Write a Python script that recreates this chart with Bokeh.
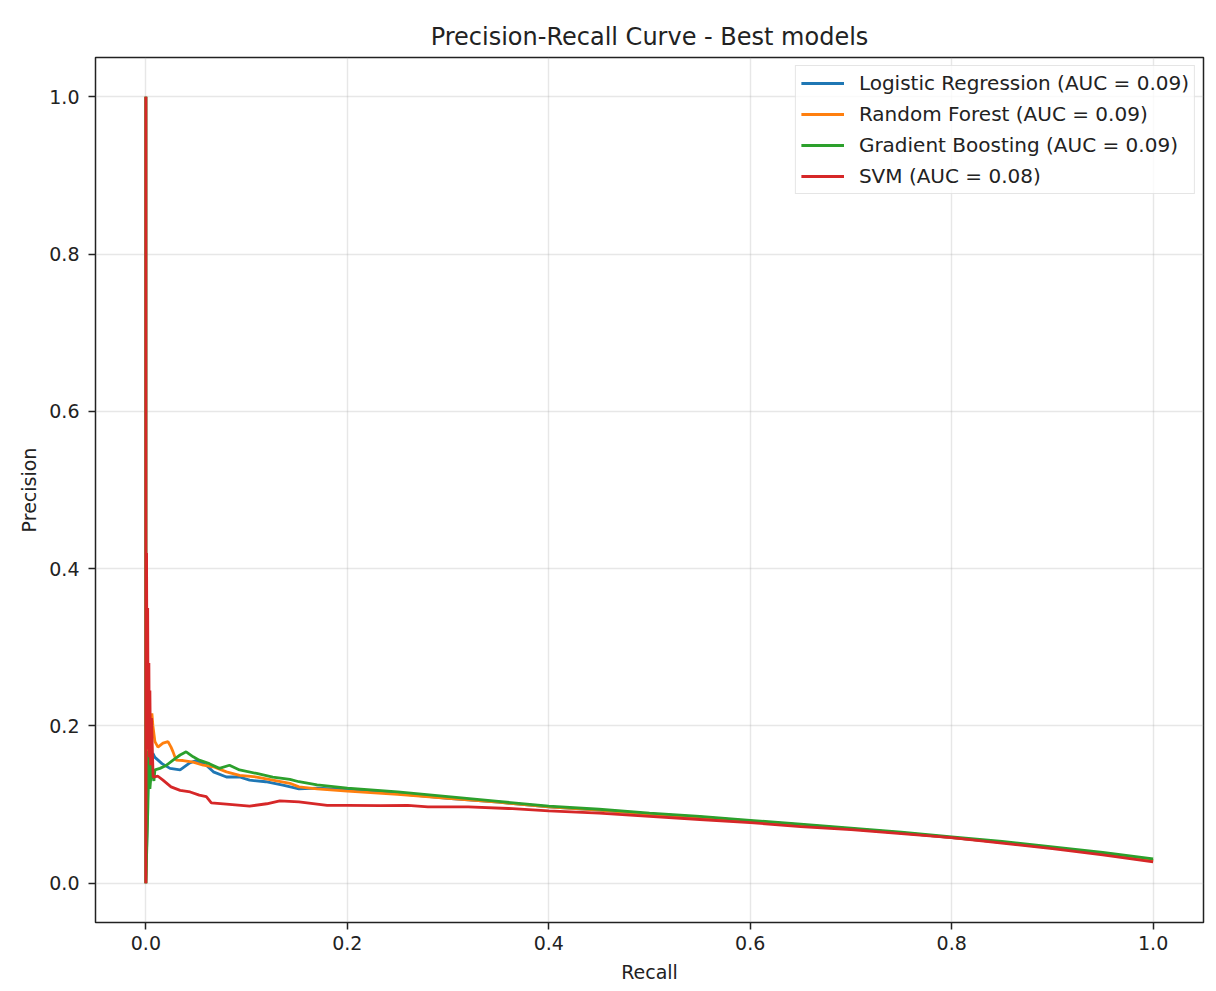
from bokeh.plotting import figure
from bokeh.models import Range1d, FixedTicker, PrintfTickFormatter, Legend, LegendItem
from bokeh.embed import file_html
from bokeh.resources import INLINE

# ---------------- data ----------------
model_names = ["Logistic Regression", "Random Forest", "Gradient Boosting", "SVM"]
auc_values = [0.09, 0.09, 0.09, 0.08]
series_colors = ["#1f77b4", "#ff7f0e", "#2ca02c", "#d62728"]

lr_recall = [0, 0, 0.002, 0.003, 0.005, 0.007, 0.009, 0.016, 0.024, 0.034, 0.0436, 0.05,
             0.06, 0.067, 0.08, 0.093, 0.103, 0.119, 0.136, 0.152, 0.17, 0.2, 0.25, 0.3,
             0.35, 0.4, 0.45, 0.5, 0.55, 0.6, 0.65, 0.7, 0.75, 0.8, 0.85, 0.9, 0.95, 1.0]
lr_precision = [1.0, 0.0, 0.12, 0.165, 0.13, 0.165, 0.16, 0.152, 0.146, 0.144, 0.153, 0.156,
                0.15, 0.1416, 0.135, 0.135, 0.131, 0.129, 0.1247, 0.12, 0.121, 0.119, 0.114, 0.108,
                0.103, 0.097, 0.093, 0.088, 0.084, 0.079, 0.074, 0.069, 0.064, 0.058, 0.052, 0.045, 0.038, 0.029]

rf_recall = [0, 0, 0.002, 0.004, 0.006, 0.007, 0.009, 0.012, 0.017, 0.022, 0.025, 0.027,
             0.030, 0.037, 0.047, 0.057, 0.067, 0.08, 0.093, 0.11, 0.126, 0.143, 0.152, 0.17,
             0.2, 0.25, 0.3, 0.35, 0.4, 0.45, 0.5, 0.55, 0.6, 0.65, 0.7, 0.75, 0.8, 0.85,
             0.9, 0.95, 1.0]
rf_precision = [1.0, 0.0, 0.15, 0.19, 0.216, 0.2, 0.18, 0.173, 0.178, 0.18, 0.173, 0.167,
                0.1565, 0.156, 0.154, 0.15, 0.148, 0.1416, 0.137, 0.135, 0.131, 0.127, 0.1225, 0.12,
                0.117, 0.113, 0.108, 0.103, 0.097, 0.093, 0.088, 0.084, 0.079, 0.074, 0.069, 0.064,
                0.058, 0.052, 0.045, 0.038, 0.029]

gb_recall = [0, 0, 0.002, 0.003, 0.004, 0.006, 0.008, 0.009, 0.014, 0.0205, 0.027, 0.034,
             0.04, 0.047, 0.053, 0.063, 0.073, 0.083, 0.093, 0.11, 0.126, 0.143, 0.152, 0.17,
             0.2, 0.25, 0.3, 0.35, 0.4, 0.45, 0.5, 0.55, 0.6, 0.65, 0.7, 0.75, 0.8, 0.85,
             0.9, 0.95, 1.0]
gb_precision = [1.0, 0.0, 0.097, 0.168, 0.12, 0.15, 0.13, 0.144, 0.146, 0.15, 0.1565, 0.163,
                0.167, 0.1607, 0.1565, 0.152, 0.146, 0.15, 0.144, 0.1395, 0.135, 0.132, 0.129, 0.125,
                0.121, 0.116, 0.11, 0.104, 0.098, 0.094, 0.089, 0.085, 0.08, 0.075, 0.07, 0.065,
                0.059, 0.053, 0.046, 0.039, 0.031]

svm_recall = [0, 0, 0.0007, 0.0012, 0.0018, 0.0023, 0.003, 0.0035, 0.004, 0.0047, 0.0056,
              0.0072, 0.012, 0.017, 0.025, 0.034, 0.044, 0.053, 0.06, 0.065, 0.08, 0.103,
              0.12, 0.133, 0.152, 0.18, 0.2, 0.233, 0.26, 0.28, 0.32, 0.36, 0.4, 0.45, 0.5,
              0.55, 0.6, 0.65, 0.7, 0.75, 0.8, 0.85, 0.9, 0.95, 1.0]
svm_precision = [1.0, 0.0, 0.42, 0.2, 0.35, 0.17, 0.28, 0.16, 0.245, 0.15, 0.21,
                 0.135, 0.136, 0.131, 0.1225, 0.118, 0.116, 0.112, 0.11, 0.102, 0.1005, 0.098,
                 0.101, 0.1047, 0.1035, 0.099, 0.099, 0.0985, 0.099, 0.097, 0.097, 0.095, 0.092,
                 0.089, 0.085, 0.081, 0.077, 0.072, 0.068, 0.063, 0.058, 0.051, 0.044, 0.036, 0.027]

x_ticks = [0.0, 0.2, 0.4, 0.6, 0.8, 1.0]
y_ticks = [0.0, 0.2, 0.4, 0.6, 0.8, 1.0]

recalls = [lr_recall, rf_recall, gb_recall, svm_recall]
precisions = [lr_precision, rf_precision, gb_precision, svm_precision]

# ---------------- figure ----------------
FONT = "DejaVu Sans"
p = figure(width=1208, height=985, output_backend="svg", toolbar_location=None,
           x_range=Range1d(-0.05, 1.05), y_range=Range1d(-0.05, 1.05),
           min_border_left=95, min_border_right=5, min_border_top=57, min_border_bottom=61,
           background_fill_color="white", border_fill_color="white")

p.title.text = "Precision-Recall Curve - Best models"
p.title.align = "center"
p.title.text_font = FONT
p.title.text_font_size = "24px"
p.title.text_font_style = "normal"
p.title.text_color = "#222222"
p.title.standoff = 14

p.outline_line_color = "#222222"
p.outline_line_width = 1.5

for ax in (p.xaxis[0], p.yaxis[0]):
    ax.axis_line_color = None
    ax.major_tick_out = 7
    ax.major_tick_in = 0
    ax.major_tick_line_color = "#222222"
    ax.major_tick_line_width = 1.5
    ax.minor_tick_line_color = None
    ax.major_label_text_font = FONT
    ax.major_label_text_font_size = "19px"
    ax.major_label_text_color = "#222222"
    ax.axis_label_text_font = FONT
    ax.axis_label_text_font_size = "19px"
    ax.axis_label_text_font_style = "normal"
    ax.axis_label_text_color = "#222222"
    ax.formatter = PrintfTickFormatter(format="%.1f")

p.xaxis[0].ticker = FixedTicker(ticks=x_ticks)
p.yaxis[0].ticker = FixedTicker(ticks=y_ticks)
p.xaxis[0].axis_label = "Recall"
p.yaxis[0].axis_label = "Precision"
p.xaxis[0].major_label_standoff = 6
p.yaxis[0].major_label_standoff = 9
p.xaxis[0].axis_label_standoff = 8
p.yaxis[0].axis_label_standoff = 6

p.xgrid.ticker = FixedTicker(ticks=x_ticks)
p.ygrid.ticker = FixedTicker(ticks=y_ticks)
p.grid.grid_line_color = "#b0b0b0"
p.grid.grid_line_alpha = 0.3
p.grid.grid_line_width = 1.4

items = []
for name, auc, col, rx, py in zip(model_names, auc_values, series_colors, recalls, precisions):
    r = p.line(rx, py, line_color=col, line_width=2.8)
    items.append(LegendItem(label=f"{name} (AUC = {auc:.2f})", renderers=[r]))

legend = Legend(items=items, location="top_right")
legend.label_text_font = FONT
legend.label_text_font_size = "20px"
legend.label_text_color = "#222222"
legend.glyph_width = 43
legend.glyph_height = 24
legend.label_height = 24
legend.spacing = 7
legend.padding = 5
legend.margin = 8
legend.label_standoff = 15
legend.border_line_color = "#cccccc"
legend.border_line_width = 1.2
legend.background_fill_alpha = 0.8
p.add_layout(legend, "center")

open("out.html", "w").write(file_html(p, INLINE))
